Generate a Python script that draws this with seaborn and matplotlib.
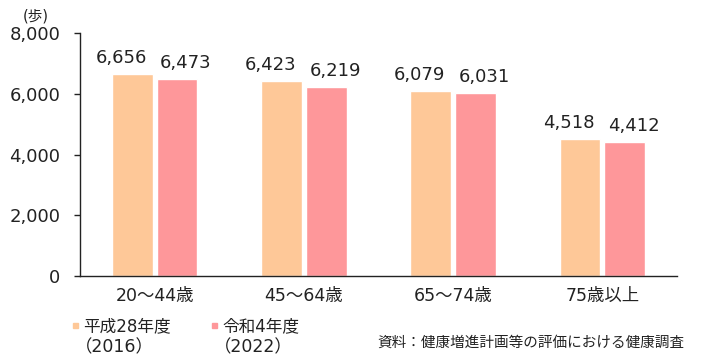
import matplotlib
matplotlib.use("Agg")
import matplotlib.pyplot as plt
import seaborn as sns
import pandas as pd

categories = ["20～44歳", "45～64歳", "65～74歳", "75歳以上"]
series_names = ["平成28年度\n（2016）", "令和4年度\n（2022）"]
values_2016 = [6656, 6423, 6079, 4518]
values_2022 = [6473, 6219, 6031, 4412]
y_ticks = [0, 2000, 4000, 6000, 8000]
colors = ["#FEC898", "#FE979A"]

sns.set_theme(style="white")
plt.rcParams['font.family'] = ['DejaVu Sans', 'Noto Sans CJK JP']

df = pd.DataFrame({
    "cat": categories * 2,
    "series": [series_names[0]] * 4 + [series_names[1]] * 4,
    "val": values_2016 + values_2022,
})

fig = plt.figure(figsize=(7.1, 3.6), dpi=100)
ax = fig.add_axes([80 / 710, 1 - 276 / 360, 597 / 710, (276 - 33) / 360])
sns.barplot(data=df, x="cat", y="val", hue="series", palette=colors,
            width=0.6, gap=0.09, ax=ax, legend=False, saturation=1)

ax.set_ylim(0, 8000)
ax.set_xlim(-0.5, 3.5)
ax.set_yticks(y_ticks)
ax.set_yticklabels([f"{v:,}" for v in y_ticks], fontsize=13, color="#222222")
ax.tick_params(axis="y", length=4, width=1, color="#222222", left=True, direction="out", pad=10)
ax.tick_params(axis="x", length=0, labelsize=12.5, pad=8, labelcolor="#222222")
ax.set_xlabel("")
ax.set_ylabel("")
for s in ["top", "right"]:
    ax.spines[s].set_visible(False)
for s in ["left", "bottom"]:
    ax.spines[s].set_color("#222222")
    ax.spines[s].set_linewidth(1)

# value labels, nudged outward as in the reference
offsets = [-8.0, 6.5]
for cont, dx in zip(ax.containers, offsets):
    for bar, v in zip(cont.patches, cont.datavalues):
        ax.annotate(f"{int(v):,}", xy=(bar.get_x() + bar.get_width() / 2, v),
                    xytext=(dx, 11.5), textcoords="offset points",
                    ha="center", va="center", fontsize=13, color="#222222")

fig.text(36 / 710, 1 - 16 / 360, "(歩)", fontsize=10.5, ha="center", va="center", color="#222222")

# legend
for x0, name, c in [(73, series_names[0], colors[0]), (212, series_names[1], colors[1])]:
    fig.patches.append(plt.Rectangle((x0 / 710, 1 - 328 / 360), 5 / 710, 5 / 360,
                                     transform=fig.transFigure, color=c, figure=fig))
    fig.text((x0 + 10) / 710, 1 - 326 / 360, name.split("\n")[0], fontsize=12,
             ha="left", va="center", color="#222222")
    fig.text((x0 + 2) / 710, 1 - 347 / 360, name.split("\n")[1], fontsize=12.5,
             ha="left", va="center", color="#222222")

fig.text(684 / 710, 1 - 342 / 360, "資料：健康増進計画等の評価における健康調査", fontsize=10.5,
         ha="right", va="center", color="#222222")

fig.savefig("out.png", dpi=100, facecolor="white")
